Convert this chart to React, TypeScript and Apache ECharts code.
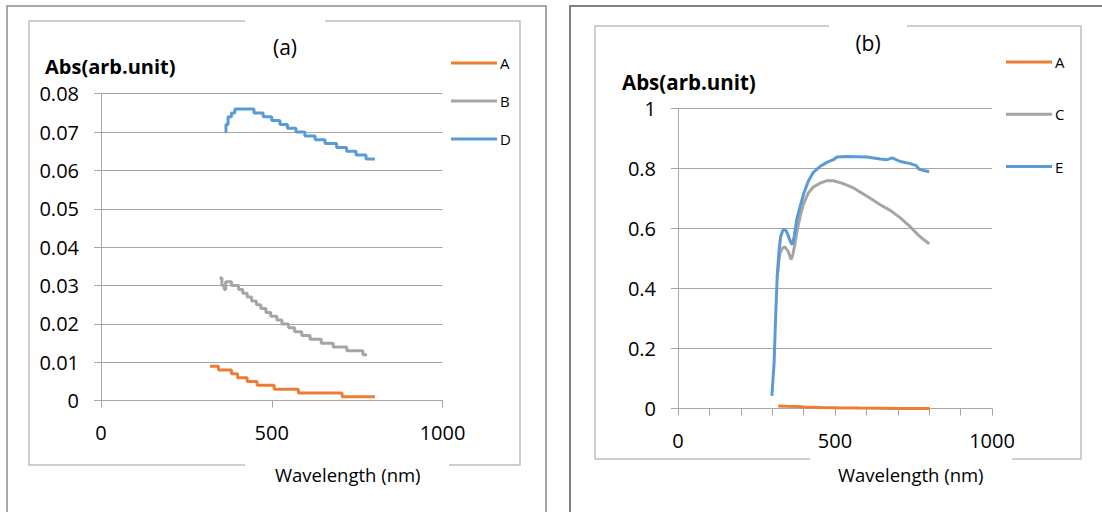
import React, { useEffect, useRef } from "react";
import * as echarts from "echarts";

// ---- Panel (a) data: wavelength (nm) / absorbance ----
const aWave = [319, 344, 382, 400, 428, 457, 507, 578, 706, 802];
const aAbs = [0.009, 0.008, 0.007, 0.006, 0.005, 0.004, 0.003, 0.002, 0.001, 0.001];

const bWave = [347, 354, 361, 365, 382, 403, 415, 428, 441, 455, 468, 483, 497, 515, 530, 549, 567, 588, 612, 645, 680, 720, 767, 779];
const bAbs = [0.032, 0.030, 0.029, 0.031, 0.030, 0.029, 0.028, 0.027, 0.026, 0.025, 0.024, 0.023, 0.022, 0.021, 0.020, 0.019, 0.018, 0.017, 0.016, 0.015, 0.014, 0.013, 0.012, 0.012];

const dWave = [363, 366, 372, 382, 392, 448, 475, 500, 524, 546, 571, 597, 627, 656, 690, 719, 747, 776, 802];
const dAbs = [0.070, 0.072, 0.074, 0.075, 0.076, 0.075, 0.074, 0.073, 0.072, 0.071, 0.070, 0.069, 0.068, 0.067, 0.066, 0.065, 0.064, 0.063, 0.063];

// ---- Panel (b) data ----
const cWave = [316, 322, 325, 333, 341, 351, 360, 365, 373, 380, 389, 399, 415, 431, 453, 474, 495, 522, 559, 602, 644, 676, 708, 740, 761, 783, 800];
const cAbs = [0.44, 0.50, 0.519, 0.536, 0.539, 0.524, 0.497, 0.51, 0.552, 0.597, 0.641, 0.68, 0.719, 0.739, 0.752, 0.76, 0.76, 0.752, 0.736, 0.708, 0.68, 0.661, 0.636, 0.606, 0.583, 0.563, 0.55];

const eWave = [299, 306, 311, 316, 322, 327, 335, 344, 351, 360, 364, 370, 378, 389, 401, 415, 431, 453, 474, 495, 506, 538, 602, 644, 666, 682, 708, 740, 759, 767, 783, 800];
const eAbs = [0.043, 0.152, 0.308, 0.441, 0.53, 0.574, 0.597, 0.594, 0.577, 0.552, 0.547, 0.574, 0.63, 0.674, 0.719, 0.758, 0.788, 0.808, 0.821, 0.83, 0.839, 0.841, 0.839, 0.832, 0.83, 0.836, 0.824, 0.817, 0.81, 0.799, 0.794, 0.79];

const leftTicksY = { min: 0, max: 0.08, interval: 0.01 };
const rightTicksY = { min: 0, max: 1, interval: 0.2 };
const xRange = { min: 0, max: 1000 };

const ORANGE = "#ED7D31";
const GREY = "#A5A5A5";
const BLUE = "#5B9BD5";
const FONT = "Open Sans";
const GRID_C = "#A6A6A6";

const zip = (xs: number[], ys: number[]) => xs.map((x, i) => [x, ys[i]]);

function lineSeries(name: string, color: string, data: number[][], idx: number, step: any) {
  return {
    name,
    type: "line",
    xAxisIndex: idx,
    yAxisIndex: idx,
    data,
    step,
    symbol: "none",
    showSymbol: false,
    lineStyle: { width: 3, color },
    itemStyle: { color },
    emphasis: { disabled: true },
  };
}

function xAxisCfg(gridIndex: number, interval: number) {
  return {
    type: "value",
    gridIndex,
    min: xRange.min,
    max: xRange.max,
    interval,
    axisLine: { show: true, onZero: false, lineStyle: { color: GRID_C, width: 1 } },
    axisTick: { show: true, inside: false, length: 7, lineStyle: { color: GRID_C } },
    splitLine: { show: false },
    axisLabel: {
      margin: 22,
      color: "#000",
      fontFamily: FONT,
      fontSize: 20,
      formatter: (v: number) => (v % 500 === 0 ? String(v) : ""),
    },
  };
}

function yAxisCfg(gridIndex: number, t: { min: number; max: number; interval: number }, digits: number) {
  return {
    type: "value",
    gridIndex,
    min: t.min,
    max: t.max,
    interval: t.interval,
    axisLine: { show: true, lineStyle: { color: GRID_C, width: 1 } },
    axisTick: { show: true, inside: false, length: 7, lineStyle: { color: GRID_C } },
    splitLine: { show: true, lineStyle: { color: GRID_C, width: 1 } },
    axisLabel: {
      margin: 22,
      color: "#000",
      fontFamily: FONT,
      fontSize: 20,
      formatter: (v: number) => (v === 0 ? "0" : digits > 0 ? v.toFixed(digits) : String(v)),
    },
  };
}

function boxWithGaps(left: number, top: number, right: number, bottom: number, topGap: number[], botGap: number[], color: string) {
  return [
    {
      type: "polyline",
      silent: true,
      shape: { points: [[topGap[0], top], [left, top], [left, bottom], [botGap[0], bottom]] },
      style: { stroke: color, lineWidth: 1.5, fill: null },
    },
    {
      type: "polyline",
      silent: true,
      shape: { points: [[botGap[1], bottom], [right, bottom], [right, top], [topGap[1], top]] },
      style: { stroke: color, lineWidth: 1.5, fill: null },
    },
  ];
}

function txt(text: string, x: number, y: number, size: number, bold: boolean, align: string) {
  return {
    type: "text",
    silent: true,
    x,
    y,
    style: {
      text,
      fill: "#000",
      font: `${bold ? "bold " : ""}${size}px "${FONT}"`,
      textAlign: align,
      textVerticalAlign: "middle",
    },
  };
}

export default function App() {
  const ref = useRef<HTMLDivElement>(null);
  useEffect(() => {
    if (!ref.current) return;
    const chart = echarts.init(ref.current, null, { renderer: "svg" });
    const option: any = {
      animation: false,
      backgroundColor: "#fff",
      grid: [
        { left: 101, top: 93.7, width: 341.5, height: 307 },
        { left: 678, top: 108.7, width: 314, height: 300 },
      ],
      xAxis: [xAxisCfg(0, 500), xAxisCfg(1, 100)],
      yAxis: [yAxisCfg(0, leftTicksY, 2), yAxisCfg(1, rightTicksY, 0)],
      legend: [
        {
          orient: "vertical",
          left: 446,
          top: 50,
          itemWidth: 46,
          itemHeight: 3,
          itemGap: 22,
          icon: "rect",
          selectedMode: false,
          data: ["A", "B", "D"],
          textStyle: { fontFamily: FONT, fontSize: 15, lineHeight: 16, color: "#000", padding: [0, 0, 0, -2] },
        },
        {
          orient: "vertical",
          left: 1001,
          top: 49,
          itemWidth: 46,
          itemHeight: 3,
          itemGap: 36.3,
          icon: "rect",
          selectedMode: false,
          data: ["A", "C", "E"],
          textStyle: { fontFamily: FONT, fontSize: 15, lineHeight: 16, color: "#000", padding: [0, 0, 0, -2] },
        },
      ],
      series: [
        lineSeries("A", ORANGE, zip(aWave, aAbs), 0, "end"),
        lineSeries("B", GREY, zip(bWave, bAbs), 0, "end"),
        lineSeries("D", BLUE, zip(dWave, dAbs), 0, "end"),
        lineSeries("A", ORANGE, zip(aWave, aAbs), 1, false),
        lineSeries("C", GREY, zip(cWave, cAbs), 1, false),
        lineSeries("E", BLUE, zip(eWave, eAbs), 1, false),
      ],
      graphic: [
        // outer frames
        {
          type: "polyline",
          silent: true,
          shape: { points: [[7, 512], [7, 6], [546, 6], [546, 512]] },
          style: { stroke: "#8C8C8C", lineWidth: 1.5, fill: null },
        },
        {
          type: "polyline",
          silent: true,
          shape: { points: [[570, 512], [570, 6], [1102, 6]] },
          style: { stroke: "#5A5A5A", lineWidth: 1.5, fill: null },
        },
        ...boxWithGaps(29, 21, 520, 465, [245, 325], [245, 449], "#BFBFBF"),
        ...boxWithGaps(595, 26, 1081, 459, [829, 907], [810, 1012], "#BFBFBF"),
        txt("(a)", 285, 47, 21, false, "center"),
        txt("Abs(arb.unit)", 45, 66, 20, true, "left"),
        txt("Wavelength (nm)", 275, 474, 18.5, false, "left"),
        txt("(b)", 868, 43, 21, false, "center"),
        txt("Abs(arb.unit)", 622, 82, 20.5, true, "left"),
        txt("Wavelength (nm)", 838, 474, 18.5, false, "left"),
      ],
    };
    chart.setOption(option);
    return () => chart.dispose();
  }, []);
  return (
    <div
      ref={ref}
      style={{ position: "absolute", left: 0, top: 0, width: 1102, height: 512, background: "#fff" }}
    />
  );
}
